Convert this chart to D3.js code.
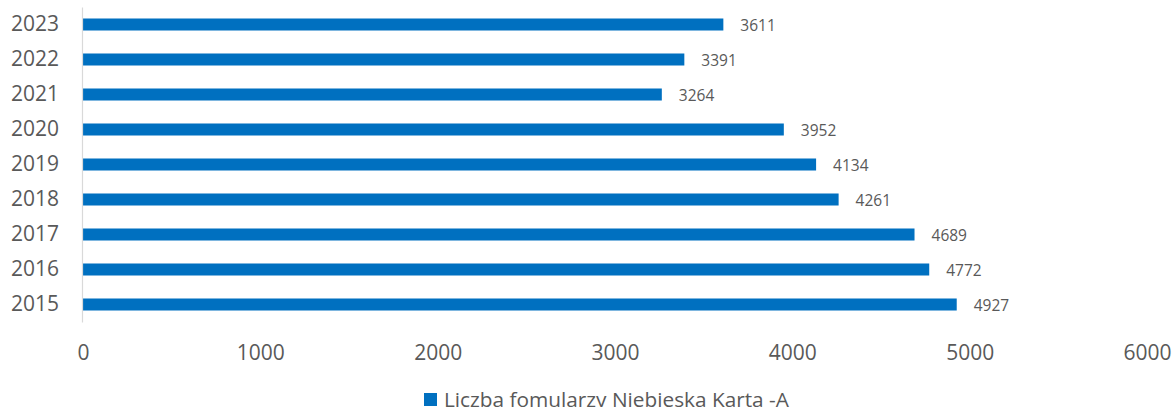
<!DOCTYPE html>
<html><head><meta charset="utf-8">
<script src="https://cdn.jsdelivr.net/npm/d3@7"></script>
<style>body{margin:0;background:#fff;} svg{display:block;}</style>
</head><body>
<script>
const years = ["2015","2016","2017","2018","2019","2020","2021","2022","2023"];
const values = [4927,4772,4689,4261,4134,3952,3264,3391,3611];
const xTicks = [0,1000,2000,3000,4000,5000,6000];
const seriesName = "Liczba fomularzy Niebieska Karta -A";

const W = 1174, H = 407;
const font = "'Open Sans', sans-serif";
const grey = "#595959";
const blue = "#0070C0";

const svg = d3.select("body").append("svg").attr("width", W).attr("height", H);

const x = d3.scaleLinear().domain([0, 6000]).range([83, 1147]);
const y = d3.scaleBand().domain(years.slice().reverse()).range([7, 322])
  .paddingInner(0.657).paddingOuter(0.3285);

// bars
svg.append("g").selectAll("rect").data(years).join("rect")
  .attr("x", x(0))
  .attr("y", d => y(d))
  .attr("width", (d, i) => x(values[i]) - x(0))
  .attr("height", y.bandwidth())
  .attr("fill", blue);

// value labels
svg.append("g").selectAll("text").data(years).join("text")
  .attr("x", (d, i) => x(values[i]) + 17)
  .attr("y", d => y(d) + y.bandwidth() / 2 + 1)
  .attr("dy", "0.35em")
  .attr("font-family", font).attr("font-size", 15.5).attr("fill", grey)
  .text((d, i) => values[i]);

// y axis
const yAxis = svg.append("g").attr("transform", `translate(${x(0) - 1},0)`)
  .call(d3.axisLeft(y).tickSize(0).tickPadding(23));
yAxis.select(".domain").attr("stroke", "#d9d9d9").attr("stroke-width", 1.2);
yAxis.selectAll("text").attr("font-family", font).attr("font-size", 21).attr("fill", grey);

// x axis (labels only)
const xAxis = svg.append("g").attr("transform", `translate(0,322)`)
  .call(d3.axisBottom(x).tickValues(xTicks).tickSize(0).tickPadding(23).tickFormat(d3.format("d")));
xAxis.select(".domain").remove();
xAxis.selectAll("text").attr("font-family", font).attr("font-size", 21).attr("fill", grey);

// legend
const lg = svg.append("g").attr("transform", "translate(424,393)");
lg.append("rect").attr("width", 13).attr("height", 13).attr("fill", blue);
lg.append("text").attr("x", 20).attr("y", 7).attr("dy", "0.35em")
  .attr("font-family", font).attr("font-size", 20.8).attr("fill", grey).text(seriesName);
</script>
</body></html>
